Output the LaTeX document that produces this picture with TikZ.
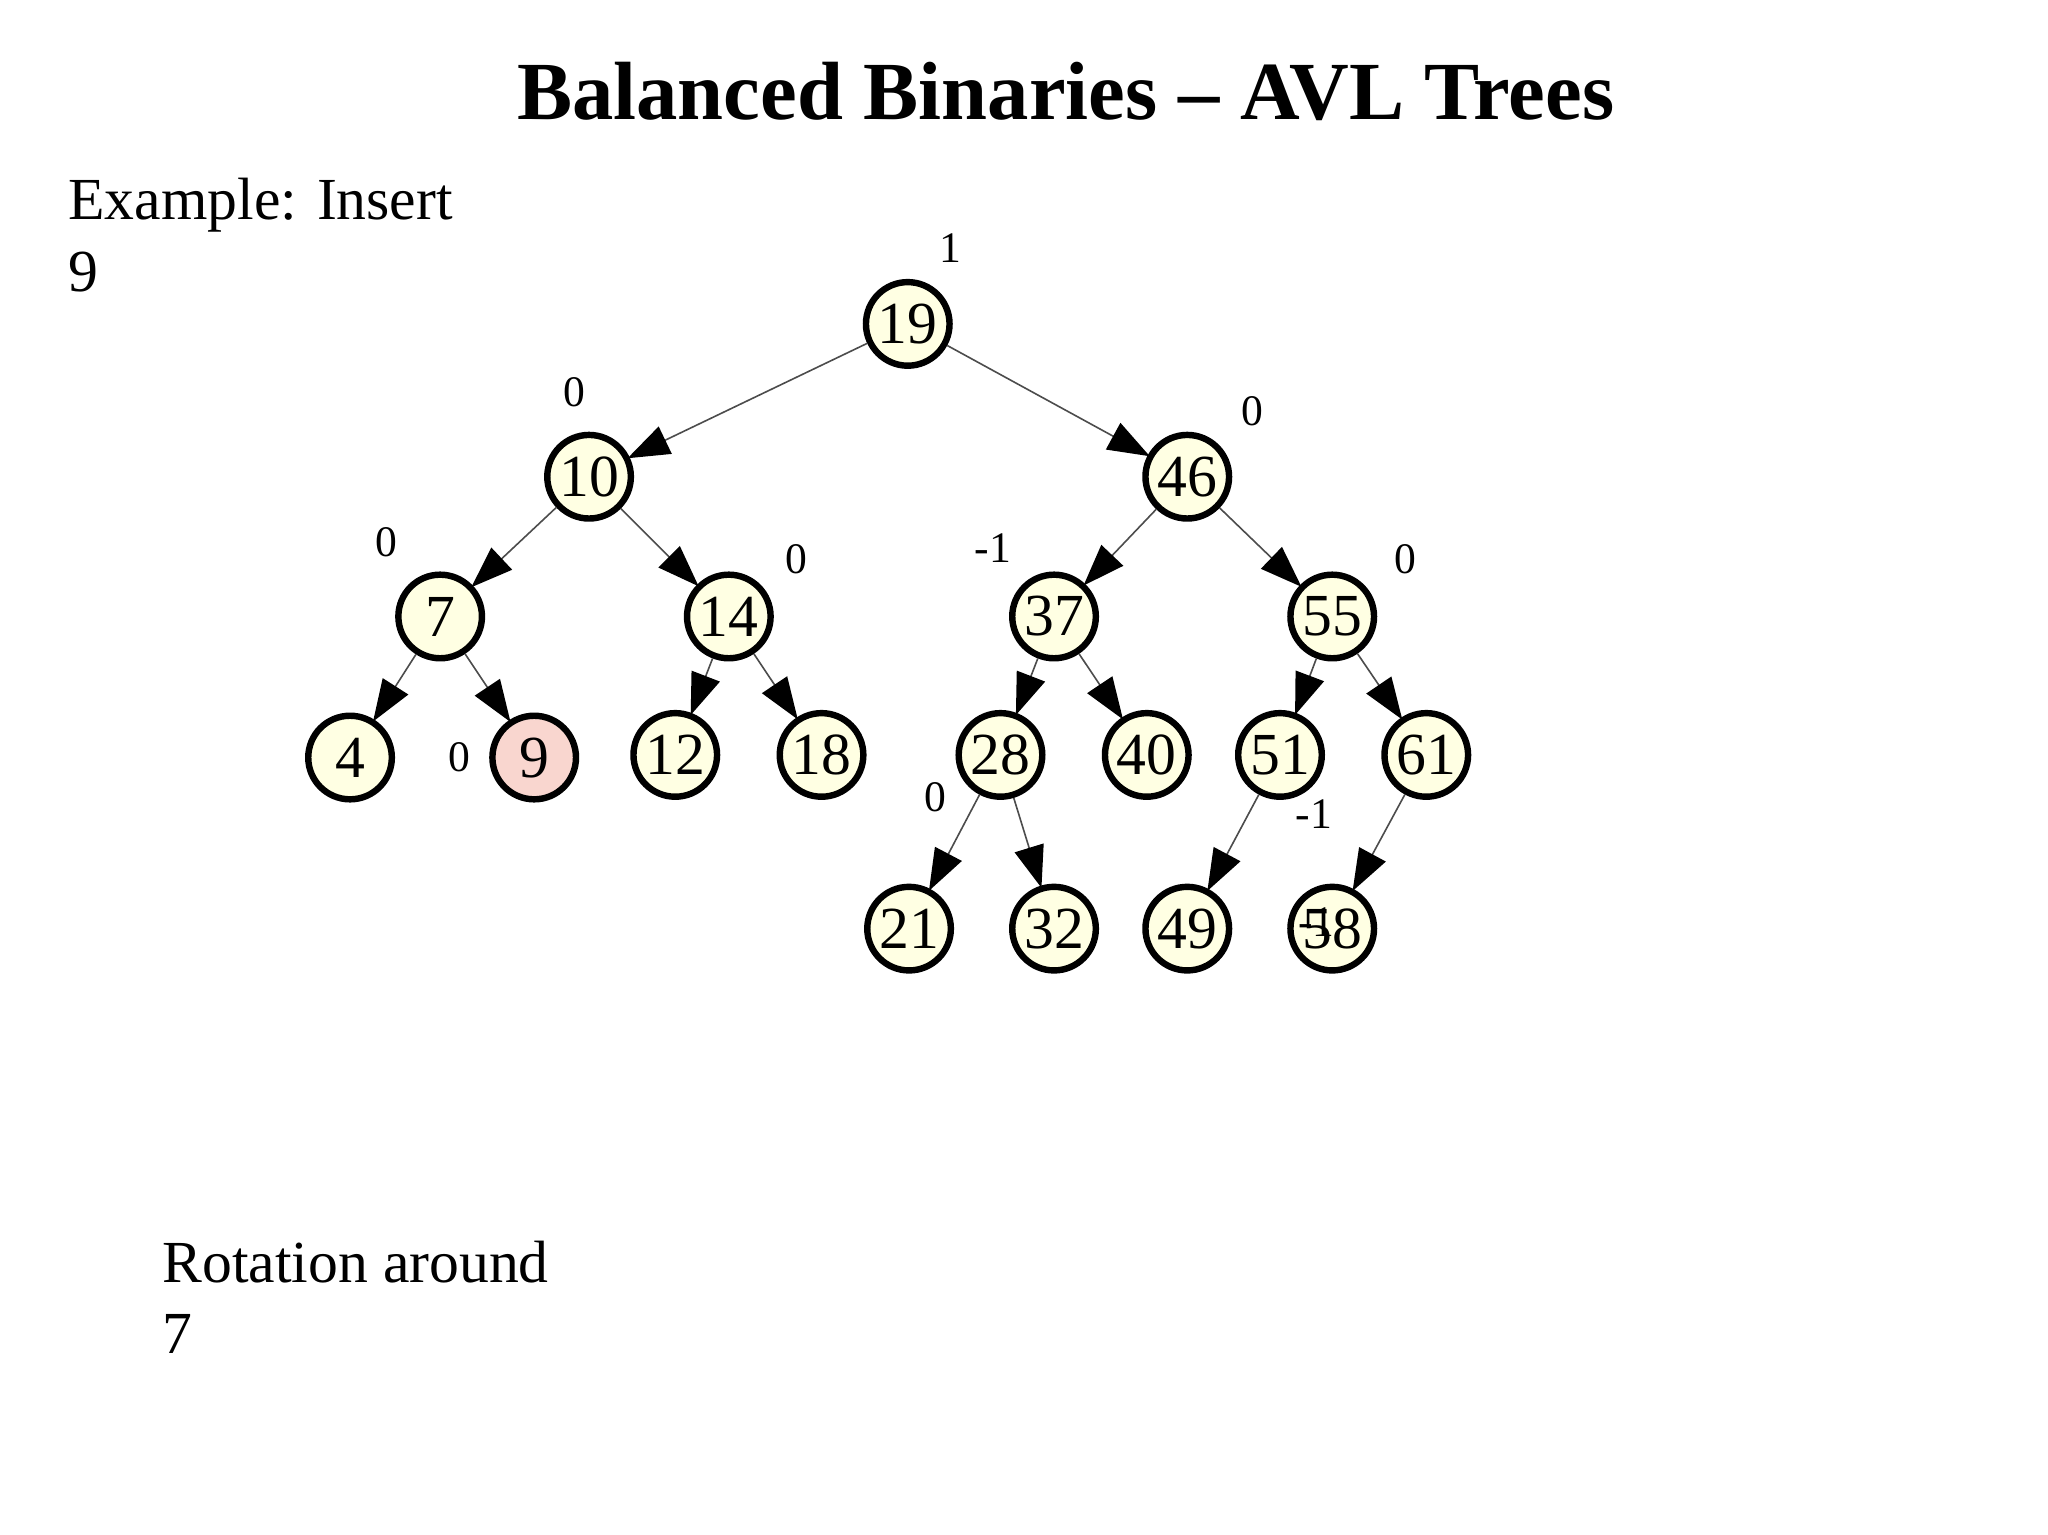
\documentclass[tikz,border=0pt]{standalone}
\usepackage{fontspec}
\setmainfont{Liberation Serif}
\usetikzlibrary{arrows.meta}
\definecolor{nfill}{HTML}{FFFFE3}
\definecolor{pfill}{HTML}{F9D6CF}
\begin{document}
\begin{tikzpicture}[x=0.1mm,y=-0.1mm,
 nd/.style={circle,draw,line width=1.4pt,fill=nfill,minimum size=6.4mm,inner sep=0pt,font=\fontsize{13}{13}\selectfont},
 bl/.style={font=\fontsize{9.5}{10}\selectfont},
 ed/.style={draw=black!70,line width=0.35pt,-{Triangle[length=3.2mm,width=2.3mm,fill=black,color=black]},shorten >=-0.5pt}]
\useasboundingbox (0,0) rectangle (1568,1175);
\node[font=\bfseries\fontsize{18}{20}\selectfont] (title) at (816,70) {Balanced Binaries – AVL Trees};
\node[anchor=west,align=left,font=\fontsize{13}{15.5}\selectfont] (ex) at (40,180) {Example: Insert\\9};
\node[anchor=west,align=left,font=\fontsize{13}{15.5}\selectfont] (rot) at (112,993) {Rotation around\\7};
\foreach \n/\x/\y in {19/695/248,10/451/365,46/909/365,7/337/472,14/558/472,37/807/472,55/1020/472,4/268/580,12/517/578,18/629/578,28/766/578,40/878/578,51/980/578,61/1092/578,21/696/711,32/807/711,49/909/711,58/1020/711}
  \node[nd] (n\n) at (\x,\y) {\n};
\node[nd,fill=pfill] (n9) at (409,580) {9};
\foreach \a/\b in {19/10,19/46,10/7,10/14,46/37,46/55,7/4,7/9,14/12,14/18,37/28,37/40,55/51,55/61,28/21,28/32,51/49,61/58}
  \draw[ed] (n\a) -- (n\b);
\foreach \t/\x/\y [count=\i] in {1/728/190,0/440/300,0/959/315,0/296/415,0/610/428,-1/760/420,0/1076/428,0/352/580,0/716/610,-1/1006/623,-1/1008/706}
  \node[bl] (b\i) at (\x,\y) {\t};
\end{tikzpicture}
\end{document}
